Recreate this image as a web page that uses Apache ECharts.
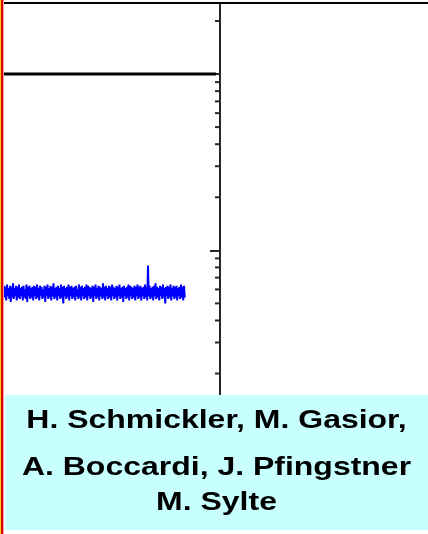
<!DOCTYPE html>
<html>
<head>
<meta charset="utf-8">
<script src="https://cdn.jsdelivr.net/npm/echarts@6/dist/echarts.min.js"></script>
<style>
  html, body { margin: 0; padding: 0; background: #ffffff; }
  #chart { width: 428px; height: 534px; }
</style>
</head>
<body>
<div id="chart"></div>
<script>
// Spectrum trace: amplitude samples, log scale, taken at a fixed step
const sampleStart = -216;
const sampleStep = 0.75;
const amplitude = [
  0.63,0.54,0.62,0.52,0.64,0.55,0.61,0.53,0.63,0.51,0.62,0.54,0.65,0.53,0.61,0.55,0.63,0.52,0.62,0.54,
  0.64,0.53,0.61,0.55,0.62,0.52,0.63,0.54,0.60,0.53,0.64,0.51,0.62,0.55,0.63,0.53,0.61,0.54,0.62,0.52,
  0.63,0.55,0.62,0.53,0.64,0.54,0.61,0.52,0.63,0.55,0.62,0.53,0.60,0.54,0.63,0.51,0.62,0.55,0.64,0.53,
  0.61,0.54,0.63,0.52,0.62,0.55,0.65,0.53,0.61,0.54,0.62,0.52,0.63,0.55,0.61,0.53,0.64,0.54,0.62,0.50,
  0.63,0.55,0.61,0.53,0.62,0.54,0.64,0.52,0.62,0.55,0.63,0.53,0.61,0.54,0.62,0.52,0.63,0.55,0.60,0.53,
  0.64,0.54,0.62,0.52,0.63,0.55,0.61,0.53,0.62,0.54,0.64,0.52,0.63,0.55,0.62,0.53,0.61,0.54,0.63,0.51,
  0.62,0.55,0.64,0.53,0.61,0.54,0.63,0.52,0.62,0.55,0.61,0.53,0.65,0.54,0.62,0.52,0.63,0.55,0.61,0.53,
  0.63,0.54,0.62,0.52,0.64,0.55,0.62,0.53,0.61,0.54,0.63,0.52,0.62,0.55,0.64,0.53,0.61,0.54,0.62,0.51,
  0.63,0.55,0.61,0.53,0.62,0.54,0.64,0.52,0.63,0.55,0.62,0.53,0.61,0.54,0.63,0.52,0.62,0.55,0.64,0.53,
  0.62,0.54,0.63,0.52,0.61,0.55,0.62,0.53,0.64,0.54,0.62,0.52,0.82,0.55,0.63,0.53,0.61,0.54,0.62,0.52,
  0.63,0.55,0.65,0.53,0.62,0.54,0.61,0.52,0.63,0.55,0.62,0.53,0.64,0.54,0.61,0.50,0.62,0.55,0.63,0.53,
  0.62,0.54,0.64,0.52,0.61,0.55,0.63,0.53,0.62,0.54,0.63,0.52,0.61,0.55,0.62,0.53,0.64,0.54,0.62,0.52,
  0.63,0.54
];

// Horizontal reference level
const levelValue = 10;
const levelStart = -216;
const levelEnd = -4;

// Axis ranges and tick values
const xRange = [-216, 208];
const yRange = [0.1, 25.3];
const majorTicks = [0.1, 1, 10];
const minorTicks = [
  0.2, 0.3, 0.4, 0.5, 0.6, 0.7, 0.8, 0.9,
  2, 3, 4, 5, 6, 7, 8, 9,
  20
];

// Author credits
const creditLines = [
  'H. Schmickler, M. Gasior,',
  'A. Boccardi, J. Pfingstner',
  'M. Sylte'
];

const traceData = amplitude.map((v, i) => [sampleStart + i * sampleStep, v]);
const levelData = [[levelStart, levelValue], [levelEnd, levelValue]];
const minorTickData = minorTicks.map(v => [0, v]);

const chart = echarts.init(document.getElementById('chart'), null, { renderer: 'canvas' });

const creditY = [421, 467.5, 502.5];
const axisColor = '#262626';

const option = {
  animation: false,
  backgroundColor: '#ffffff',
  grid: { left: 4, right: 0, top: 3, bottom: 107.4, containLabel: false },
  xAxis: {
    type: 'value',
    position: 'top',
    min: xRange[0],
    max: xRange[1],
    axisLine: { show: true, onZero: false, lineStyle: { color: '#000000', width: 2 } },
    axisTick: { show: false },
    axisLabel: { show: false },
    splitLine: { show: false }
  },
  yAxis: {
    type: 'log',
    logBase: 10,
    min: yRange[0],
    max: yRange[1],
    position: 'left',
    axisLine: { show: true, onZero: true, lineStyle: { color: axisColor, width: 2 } },
    axisTick: { show: true, length: 10, customValues: majorTicks, lineStyle: { color: axisColor, width: 2 } },
    axisLabel: { show: false },
    splitLine: { show: false }
  },
  series: [
    {
      name: 'level',
      type: 'line',
      data: levelData,
      showSymbol: false,
      lineStyle: { color: '#000000', width: 3 },
      z: 3
    },
    {
      name: 'spectrum',
      type: 'line',
      data: traceData,
      showSymbol: false,
      sampling: null,
      lineStyle: { color: '#0000ff', width: 2 },
      z: 4
    },
    {
      // minor ticks of the log axis, placed through the axis scale
      name: 'minorTicks',
      type: 'custom',
      data: minorTickData,
      clip: false,
      silent: true,
      z: 5,
      renderItem: function (params, api) {
        const p = api.coord([api.value(0), api.value(1)]);
        return {
          type: 'line',
          shape: { x1: p[0] - 5, y1: p[1], x2: p[0], y2: p[1] },
          style: { stroke: axisColor, lineWidth: 2 }
        };
      }
    }
  ],
  graphic: [
    {
      type: 'rect',
      z: 100,
      shape: { x: 5, y: 395, width: 423, height: 135 },
      style: { fill: '#c8ffff' }
    },
    ...creditLines.map((t, i) => ({
      type: 'text',
      z: 101,
      x: 216.5,
      y: creditY[i],
      scaleX: 1.23,
      scaleY: 1.02,
      style: {
        text: t,
        font: 'bold 26px "Liberation Sans", Arial, Helvetica, sans-serif',
        fill: '#000000',
        textAlign: 'center',
        textVerticalAlign: 'middle',
        align: 'center',
        verticalAlign: 'middle'
      }
    })),
    {
      type: 'rect',
      z: 102,
      shape: { x: 0, y: 0, width: 1, height: 534 },
      style: { fill: '#f2d400' }
    },
    {
      type: 'rect',
      z: 102,
      shape: { x: 1, y: 0, width: 2, height: 534 },
      style: { fill: '#e00000' }
    },
    {
      type: 'rect',
      z: 102,
      shape: { x: 3, y: 0, width: 1, height: 534 },
      style: { fill: '#f4a0a0' }
    }
  ]
};

chart.setOption(option);
</script>
</body>
</html>
